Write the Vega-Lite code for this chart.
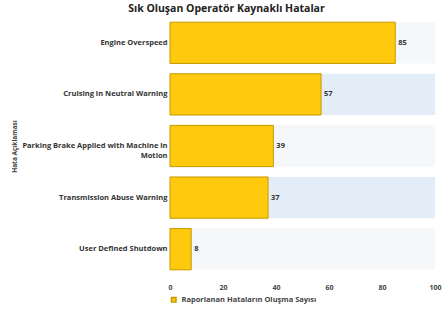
{
  "$schema": "https://vega.github.io/schema/vega-lite/v6.json",
  "width": 442,
  "height": 311,
  "autosize": {"type": "fit", "contains": "padding"},
  "padding": {"left": 11, "top": 3, "right": 0, "bottom": 6},
  "background": "white",
  "title": {"text": "Sık Oluşan Operatör Kaynaklı Hatalar", "fontSize": 10.5, "font": "Open Sans", "fontWeight": "bold", "color": "#222", "anchor": "middle", "frame": "bounds", "offset": 3},
  "config": {"view": {"stroke": null}, "font": "Open Sans"},
  "data": {"values": [
    {"hata": "Engine Overspeed", "sayi": 85},
    {"hata": "Cruising in Neutral Warning", "sayi": 57},
    {"hata": "Parking Brake Applied with Machine in Motion", "sayi": 39},
    {"hata": "Transmission Abuse Warning", "sayi": 37},
    {"hata": "User Defined Shutdown", "sayi": 8}
  ]},
  "transform": [{"window": [{"op": "row_number", "as": "sira"}]}],
  "encoding": {
    "y": {"field": "hata", "type": "nominal", "sort": null, "scale": {"paddingInner": 0.2, "paddingOuter": 0.1},
      "axis": {"title": "Hata Açıklaması", "titleFontSize": 6.5, "titleFontWeight": "bold", "titleColor": "#444", "titlePadding": 4,
        "labelFontSize": 7.5, "labelFontWeight": "bold", "labelColor": "#333", "labelLimit": 200, "ticks": false, "domain": false, "labelPadding": 3,
        "labelExpr": "datum.value == 'Parking Brake Applied with Machine in Motion' ? ['Parking Brake Applied with Machine in', 'Motion'] : datum.value"}}
  },
  "layer": [
    {
      "mark": {"type": "rect"},
      "encoding": {
        "y": {"field": "hata", "type": "nominal", "sort": null, "bandPosition": 0},
        "x": {"datum": 0, "type": "quantitative"},
        "x2": {"datum": 100},
        "color": {"condition": {"test": "datum.sira % 2 == 0", "value": "#e3edf7"}, "value": "#f6f7f9"}
      }
    },
    {
      "mark": {"type": "bar", "color": "#ffc90e", "stroke": "#c79a00", "strokeWidth": 1},
      "encoding": {
        "x": {"field": "sayi", "type": "quantitative", "scale": {"domain": [0, 100], "nice": false},
          "axis": {"title": null, "grid": false, "domain": false, "ticks": false, "values": [0, 20, 40, 60, 80, 100], "labelOverlap": false, "labelFontSize": 7, "labelColor": "#444", "labelFontWeight": "bold", "labelPadding": 8, "labelFlush": false}},
        "fill": {"datum": "Raporlanan Hataların Oluşma Sayısı", "type": "nominal", "scale": {"range": ["#ffc90e"]},
          "legend": {"title": null, "orient": "bottom", "symbolType": "square", "symbolSize": 20, "labelFontSize": 7.5, "labelColor": "#444", "labelFontWeight": "bold", "offset": 6, "padding": 0}}
      }
    },
    {
      "mark": {"type": "text", "align": "left", "dx": 3, "fontSize": 7.5, "fontWeight": "bold", "color": "#333"},
      "encoding": {
        "x": {"field": "sayi", "type": "quantitative"},
        "text": {"field": "sayi", "type": "quantitative"}
      }
    }
  ]
}
